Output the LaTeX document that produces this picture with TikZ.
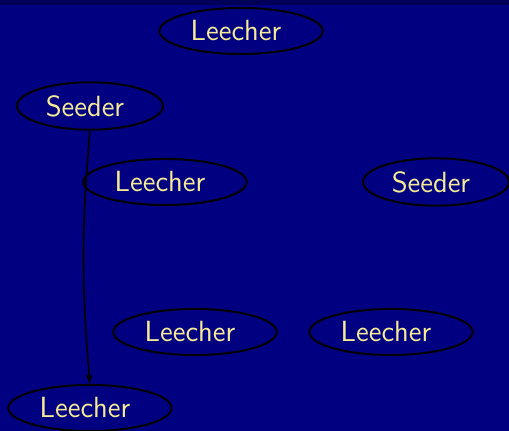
\documentclass[tikz,border=0pt]{standalone}
\usepackage{tikz}
\usetikzlibrary{shapes.geometric,arrows.meta}
\definecolor{slidebg}{RGB}{0,0,128}
\definecolor{slidebar}{RGB}{0,0,88}
\definecolor{peertext}{RGB}{245,235,150}
% trailing gap pushes the label a little to the left, as in the slide
\newcommand{\peer}[1]{#1\hspace*{5pt}}

\begin{document}
\begin{tikzpicture}[x=0.5pt,y=-0.5pt,
   every node/.style={draw=black,ellipse,line width=1pt,text=peertext,
     font=\fontsize{14.6}{17}\selectfont\sffamily,
     inner xsep=3.7pt,inner ysep=3pt},
   >={Stealth[length=5pt,width=3.4pt]}]
\fill[slidebg] (0,0) rectangle (509,431);
\fill[slidebar] (0,0) rectangle (509,5);
\useasboundingbox (0,0) rectangle (509,431);
\node (leecherA) at (241,31) {\peer{Leecher}};
\node (seederA) at (90,106) {\peer{Seeder}};
\node (leecherB) at (165,182) {\peer{Leecher}};
\node (seederB) at (436,182) {\peer{Seeder}};
\node (leecherC) at (195,332) {\peer{Leecher}};
\node (leecherD) at (391,332) {\peer{Leecher}};
\node (leecherE) at (90,408) {\peer{Leecher}};
\draw[->,line width=0.8pt] (seederA.south) to[bend right=5] (leecherE.north);
\end{tikzpicture}
\end{document}
